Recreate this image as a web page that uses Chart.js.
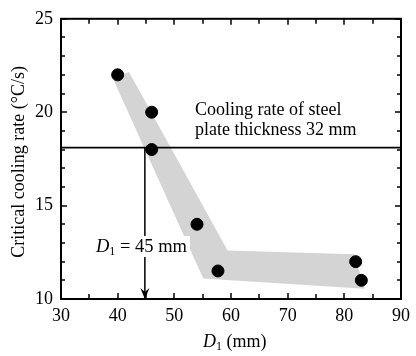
<!DOCTYPE html>
<html>
<head>
<meta charset="utf-8">
<script src="https://cdn.jsdelivr.net/npm/chart.js@4/dist/chart.umd.min.js"></script>
<style>
  html, body { margin: 0; padding: 0; background: #fff; }
  #wrap { width: 416px; height: 356px; }
</style>
</head>
<body>
<div id="wrap"><canvas id="chart" width="416" height="356"></canvas></div>
<script>
// measured points: D1 (mm) vs critical cooling rate (°C/s)
const diameters = [40, 46, 46, 54, 57.7, 82, 83];
const coolingRates = [22, 20, 18, 14, 11.5, 12, 11];

// grey band around the trend (corner points of the shaded shape)
const bandX = [39.1, 42, 59.4, 81.7, 83.6, 55.1, 39.1];
const bandY = [21.85, 22.15, 12.6, 12.4, 10.55, 11.1, 21.85];

// reference lines
const plateRate = 18.1;   // cooling rate of 32 mm plate
const d1Value = 44.8;     // D1 = 45 mm

const xTicks = [30, 40, 50, 60, 70, 80, 90];
const yTicks = [10, 15, 20, 25];

const serif = "'Liberation Serif', 'Times New Roman', serif";

// ticks inward, frame, arrow head and text
const decorPlugin = {
    id: 'decor',
    afterDraw(chart) {
        const ctx = chart.ctx;
        const a = chart.chartArea;
        const xs = chart.scales.x, ys = chart.scales.y;
        ctx.save();
        ctx.strokeStyle = '#000';
        ctx.lineWidth = 1.5;
        // x ticks every 5
        for (let v = xTicks[0]; v <= xTicks[xTicks.length - 1]; v += 5) {
            const px = Math.round(xs.getPixelForValue(v));
            const len = v % 10 === 0 ? 6 : 5;
            ctx.beginPath();
            ctx.moveTo(px, a.bottom); ctx.lineTo(px, a.bottom - len);
            ctx.moveTo(px, a.top); ctx.lineTo(px, a.top + len);
            ctx.stroke();
        }
        // y ticks every 1
        for (let v = yTicks[0]; v <= yTicks[yTicks.length - 1]; v += 1) {
            const py = Math.round(ys.getPixelForValue(v));
            const len = v % 5 === 0 ? 6 : 4;
            ctx.beginPath();
            ctx.moveTo(a.left, py); ctx.lineTo(a.left + len, py);
            ctx.moveTo(a.right, py); ctx.lineTo(a.right - len, py);
            ctx.stroke();
        }
        // frame
        ctx.lineWidth = 2;
        ctx.strokeRect(a.left, a.top, a.right - a.left, a.bottom - a.top);

        // arrow head on the D1 line
        const ax = xs.getPixelForValue(d1Value);
        const ay = a.bottom;
        ctx.fillStyle = '#000';
        ctx.beginPath();
        ctx.moveTo(ax, ay);
        ctx.lineTo(ax - 4.5, ay - 11);
        ctx.lineTo(ax, ay - 7);
        ctx.lineTo(ax + 4.5, ay - 11);
        ctx.closePath();
        ctx.fill();

        // texts
        ctx.fillStyle = '#000';
        ctx.textBaseline = 'alphabetic';
        ctx.textAlign = 'left';
        ctx.font = '18px ' + serif;
        ctx.fillText('Cooling rate of steel', 195, 115);
        ctx.fillText('plate thickness 32 mm', 195, 135);

        // D1 = 45 mm, on a white box over the line
        ctx.fillStyle = '#fff';
        ctx.fillRect(94, 236, 96, 21);
        ctx.fillStyle = '#000';
        let x = 96;
        ctx.font = 'italic 18.5px ' + serif;
        ctx.fillText('D', x, 252);
        x += ctx.measureText('D').width;
        ctx.font = '12px ' + serif;
        ctx.fillText('1', x, 255);
        x += ctx.measureText('1').width;
        ctx.font = '18.5px ' + serif;
        ctx.fillText(' = 45 mm', x, 252);

        // x title
        x = 203;
        ctx.font = 'italic 18px ' + serif;
        ctx.fillText('D', x, 347);
        x += ctx.measureText('D').width;
        ctx.font = '12px ' + serif;
        ctx.fillText('1', x, 350);
        x += ctx.measureText('1').width;
        ctx.font = '18px ' + serif;
        ctx.fillText(' (mm)', x, 347);

        // y title
        ctx.translate(24, (a.top + a.bottom) / 2 + 3);
        ctx.rotate(-Math.PI / 2);
        ctx.textAlign = 'center';
        ctx.fillText('Critical cooling rate (°C/s)', 0, 0);
        ctx.restore();
    }
};

new Chart(document.getElementById('chart'), {
    type: 'scatter',
    data: {
        datasets: [
            {
                label: 'points',
                data: diameters.map((d, i) => ({ x: d, y: coolingRates[i] })),
                backgroundColor: '#000',
                borderColor: '#000',
                pointRadius: 6,
                pointHoverRadius: 6,
                order: 0
            },
            {
                label: 'plate',
                data: [{ x: xTicks[0], y: plateRate }, { x: xTicks[xTicks.length - 1], y: plateRate }],
                showLine: true,
                borderColor: '#000',
                borderWidth: 1.8,
                pointRadius: 0,
                order: 1
            },
            {
                label: 'd1',
                data: [{ x: d1Value, y: plateRate }, { x: d1Value, y: yTicks[0] }],
                showLine: true,
                borderColor: '#000',
                borderWidth: 1.5,
                pointRadius: 0,
                order: 2
            },
            {
                label: 'band',
                data: bandX.map((d, i) => ({ x: d, y: bandY[i] })),
                showLine: true,
                fill: 'shape',
                backgroundColor: '#d4d4d4',
                borderWidth: 0,
                borderColor: 'rgba(0,0,0,0)',
                pointRadius: 0,
                tension: 0,
                order: 3
            }
        ]
    },
    options: {
        responsive: false,
        animation: false,
        events: [],
        layout: { padding: { top: 14, right: 11, left: 0, bottom: 0 } },
        plugins: {
            legend: { display: false },
            tooltip: { enabled: false }
        },
        scales: {
            x: {
                type: 'linear',
                min: 30, max: 90,
                afterFit(scale) { scale.height = 57; },
                afterBuildTicks(scale) { scale.ticks = xTicks.map(v => ({ value: v })); },
                grid: { display: false, drawTicks: false },
                border: { display: false },
                ticks: {
                    color: '#000',
                    padding: 6,
                    font: { family: serif, size: 18 },
                    maxRotation: 0
                }
            },
            y: {
                type: 'linear',
                min: 10, max: 25,
                afterFit(scale) { scale.width = 61; },
                afterBuildTicks(scale) { scale.ticks = yTicks.map(v => ({ value: v })); },
                grid: { display: false, drawTicks: false },
                border: { display: false },
                ticks: {
                    color: '#000',
                    padding: 8,
                    font: { family: serif, size: 18 }
                }
            }
        }
    },
    plugins: [decorPlugin]
});
</script>
</body>
</html>
